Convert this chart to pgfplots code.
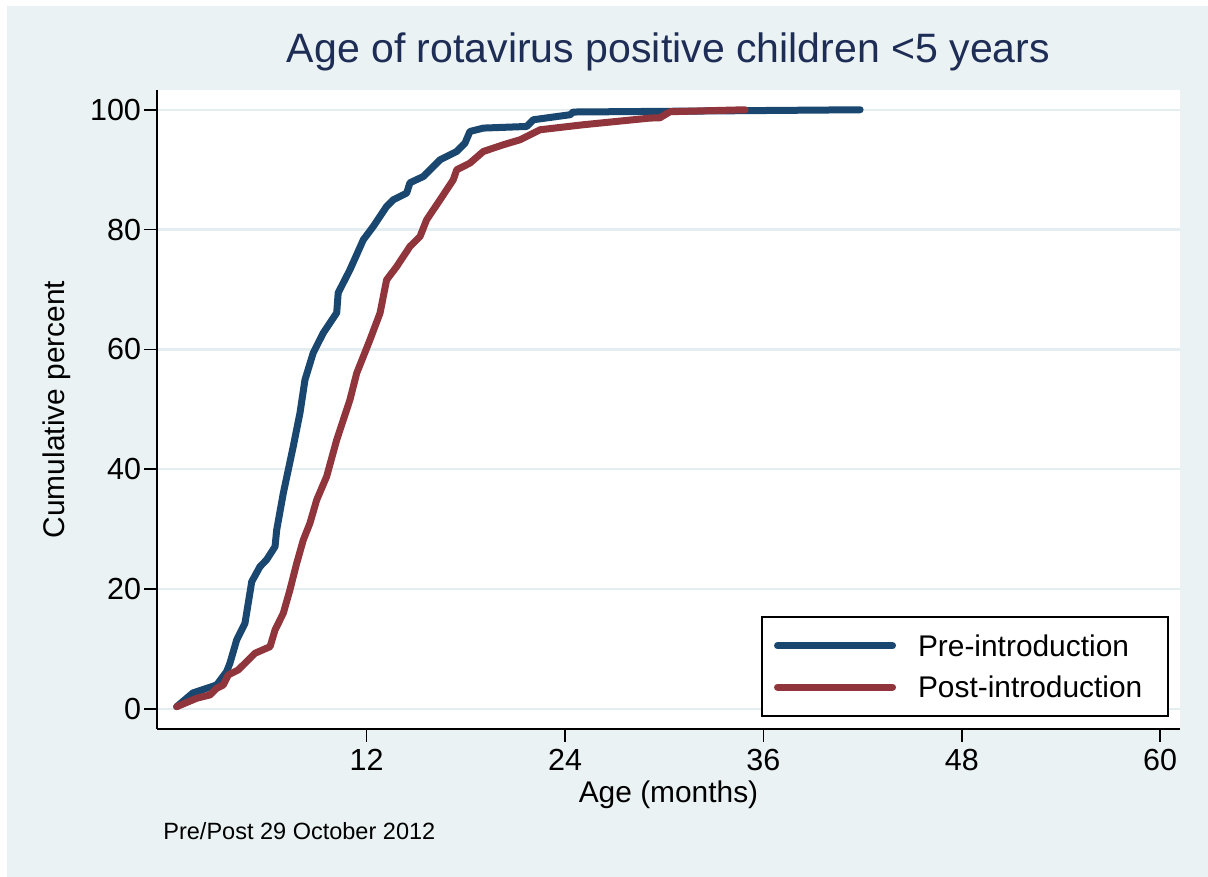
\documentclass[border=0pt]{standalone}
\usepackage{fontspec}
\setmainfont{Liberation Sans}
\usepackage{pgfplots}
\pgfplotsset{compat=1.18}
\definecolor{bgc}{RGB}{234,242,243}
\definecolor{gridc}{RGB}{228,237,240}
\definecolor{navyc}{RGB}{26,71,111}
\definecolor{maroonc}{RGB}{144,53,59}
\definecolor{titlec}{RGB}{30,45,85}
\begin{document}
\begin{tikzpicture}[x=1bp,y=1bp]
\fill[white] (-78.5,-74) rectangle (525.5,364.5);
\fill[bgc] (-75,-74) rectangle (525.5,361.5);
\begin{axis}[
  at={(0,0)}, anchor=south west, scale only axis,
  width=511.5bp, height=319.5bp,
  xmin=-0.68, xmax=61.2, ymin=-3.34, ymax=103.3,
  axis x line*=bottom, axis y line*=left,
  axis line style={-, line width=0.8bp, black},
  xtick={12,24,36,48,60}, ytick={0,20,40,60,80,100},
  tick align=outside, major tick length=6.5bp,
  tick style={line width=0.8bp, black},
  ymajorgrids, grid style={gridc, line width=1.2bp},
  axis background/.style={fill=white},
  tick label style={font=\fontsize{15.3}{17}\selectfont},
  yticklabel style={xshift=2bp},
  /pgf/number format/assume math mode=true,
  title={Age of rotavirus positive children <5 years},
  title style={at={(axis description cs:0.5,1)}, anchor=base, yshift=7.9bp, font=\fontsize{20.6}{24}\selectfont, text=titlec},
  xlabel={Age (months)},
  xlabel style={at={(axis description cs:0.5,0)}, anchor=base, yshift=-37bp, font=\fontsize{15}{18}\selectfont},
  ylabel={Cumulative percent},
  ylabel style={at={(axis description cs:-0.0978,0.5)}, anchor=center, font=\fontsize{15}{18}\selectfont},
  legend image code/.code={\draw[#1, line width=3.5bp] (0bp,0bp) -- (57.5bp,0bp);},
  legend cell align=left,
  legend style={at={(axis description cs:1,0)}, anchor=south east, xshift=-5.5bp, yshift=6bp,
    draw=black, line width=1bp, fill=white, inner xsep=6bp, inner ysep=9bp,
    font=\fontsize{15}{18}\selectfont, row sep=10bp,
    nodes={text height=10.75bp, text depth=0bp, inner ysep=0bp},
    /tikz/every odd column/.append style={column sep=9bp},
    /tikz/every even column/.append style={text width=117bp, align=left}},
]
\addplot[navyc, line width=3.5bp, line join=round, line cap=round] table[row sep=\\] {
x y\\
0.51 0.38\\
1.49 2.67\\
2.93 4.01\\
3.53 6.23\\
3.73 7.63\\
4.14 11.52\\
4.64 14.30\\
4.97 19.87\\
5.05 21.25\\
5.55 23.76\\
5.95 24.90\\
6.46 27.10\\
6.56 29.88\\
6.96 36.01\\
7.56 43.79\\
7.97 49.42\\
8.27 54.92\\
8.77 59.43\\
9.38 62.77\\
10.19 66.11\\
10.28 69.45\\
10.99 73.29\\
11.80 78.30\\
12.40 80.52\\
13.21 83.86\\
13.61 84.97\\
14.42 86.09\\
14.62 87.81\\
15.43 88.86\\
16.44 91.65\\
17.45 93.04\\
17.95 94.44\\
18.25 96.38\\
19.06 96.94\\
21.68 97.21\\
22.08 98.33\\
24.31 99.17\\
24.49 99.62\\
29.14 99.72\\
41.85 100\\
};
\addlegendentry{Pre-introduction}
\addplot[maroonc, line width=3.5bp, line join=round, line cap=round] table[row sep=\\] {
x y\\
0.51 0.38\\
1.72 1.79\\
2.52 2.34\\
2.93 3.46\\
3.33 4.01\\
3.63 5.68\\
4.23 6.51\\
4.74 7.90\\
5.25 9.30\\
6.16 10.40\\
6.46 13.19\\
6.96 15.98\\
7.36 19.87\\
7.77 24.32\\
8.17 28.21\\
8.57 31.00\\
8.98 34.89\\
9.58 38.78\\
10.19 44.91\\
10.99 51.59\\
11.40 56.04\\
12.20 61.60\\
12.81 66.06\\
13.21 71.62\\
13.82 73.84\\
14.62 77.18\\
15.23 78.85\\
15.63 81.64\\
16.44 84.97\\
17.24 88.31\\
17.45 89.98\\
18.25 91.10\\
19.06 93.04\\
20.27 94.16\\
21.28 94.99\\
22.49 96.66\\
25.11 97.50\\
29.14 98.61\\
29.74 98.66\\
30.35 99.67\\
34.89 100\\
};
\addlegendentry{Post-introduction}
\end{axis}
\node[anchor=base west, font=\fontsize{11.8}{14}\selectfont, inner sep=0pt] at (3,-55.5) {Pre/Post 29 October 2012};
\pgfresetboundingbox
\useasboundingbox (-78.5,-74) rectangle (525.5,364.5);
\end{tikzpicture}
\end{document}
